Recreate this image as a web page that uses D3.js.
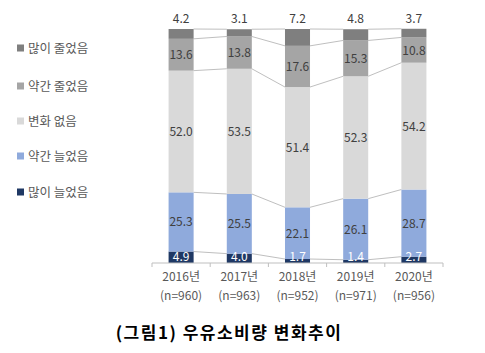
<!DOCTYPE html>
<html>
<head>
<meta charset="utf-8">
<script src="https://cdn.jsdelivr.net/npm/d3@7"></script>
<style>
  body { margin: 0; background: #fff; }
  svg { display: block; }
</style>
</head>
<body>
<svg id="chart"></svg>
<script>
// data
const years = ["2016년", "2017년", "2018년", "2019년", "2020년"];
const samples = ["(n=960)", "(n=963)", "(n=952)", "(n=971)", "(n=956)"];
const seriesNames = ["많이 늘었음", "약간 늘었음", "변화 없음", "약간 줄었음", "많이 줄었음"];
const manyUp = [4.9, 4.0, 1.7, 1.4, 2.7];
const littleUp = [25.3, 25.5, 22.1, 26.1, 28.7];
const noChange = [52.0, 53.5, 51.4, 52.3, 54.2];
const littleDown = [13.6, 13.8, 17.6, 15.3, 10.8];
const manyDown = [4.2, 3.1, 7.2, 4.8, 3.7];
const colors = ["#1f3864", "#8faadc", "#d9d9d9", "#a5a5a5", "#7f7f7f"];

const width = 485;
const height = 353;
const margin = {top: 29, bottom: 90, left: 152, right: 42};

const table = years.map((y, i) => ({
  year: y, n: samples[i],
  [seriesNames[0]]: manyUp[i],
  [seriesNames[1]]: littleUp[i],
  [seriesNames[2]]: noChange[i],
  [seriesNames[3]]: littleDown[i],
  [seriesNames[4]]: manyDown[i]
}));

const stack = d3.stack().keys(seriesNames).value((d, k) => d[k]);
const series = stack(table);

const svg = d3.select("#chart")
  .attr("width", width)
  .attr("height", height)
  .style("font-family", "'Noto Sans CJK KR', 'Noto Sans', sans-serif");

const xScale = d3.scaleBand()
  .domain(years)
  .range([margin.left, width - margin.right])
  .paddingInner(0.57)
  .paddingOuter(0.285);

const yScale = d3.scaleLinear()
  .domain([0, 100])
  .range([height - margin.bottom, margin.top]);

// connector lines between bars
series.forEach(s => {
  for (let i = 0; i < s.length - 1; i++) {
    svg.append("line")
      .attr("x1", xScale(years[i]) + xScale.bandwidth())
      .attr("x2", xScale(years[i + 1]))
      .attr("y1", yScale(s[i][1]))
      .attr("y2", yScale(s[i + 1][1]))
      .attr("stroke", "#bfbfbf")
      .attr("stroke-width", 1);
  }
});

// bars
const groups = svg.selectAll("g.series")
  .data(series)
  .enter()
  .append("g")
  .attr("fill", (d, i) => colors[i]);

groups.selectAll("rect")
  .data(d => d)
  .enter()
  .append("rect")
  .attr("x", d => xScale(d.data.year))
  .attr("width", xScale.bandwidth())
  .attr("y", d => yScale(d[1]))
  .attr("height", d => yScale(d[0]) - yScale(d[1]));

// value labels
series.forEach((s, si) => {
  svg.append("g").selectAll("text")
    .data(s)
    .enter()
    .append("text")
    .attr("x", d => xScale(d.data.year) + xScale.bandwidth() / 2)
    .attr("y", d => {
      if (si === 4) return yScale(d[1]) - 6;
      const mid = Math.min((yScale(d[0]) + yScale(d[1])) / 2, yScale(0) - 6.5);
      return mid + 4.5;
    })
    .attr("text-anchor", "middle")
    .attr("font-size", 12)
    .attr("fill", si === 0 ? "#ffffff" : "#404040")
    .text(d => (d[1] - d[0]).toFixed(1));
});

// x axis
const xAxis = g => g
  .attr("transform", `translate(0,${height - margin.bottom})`)
  .call(d3.axisBottom(xScale).tickSize(0).tickPadding(9))
  .call(g => g.select(".domain").attr("stroke", "#bfbfbf").attr("d",
      `M${margin.left},4V0H${width - margin.right}V4`))
  .call(g => g.selectAll(".tick text").attr("font-size", 12).attr("fill", "#595959")
      .attr("font-family", "'Noto Sans CJK KR', sans-serif"));

const axisG = svg.append("g").call(xAxis);

// tick separators between categories
axisG.selectAll(".sep")
  .data(years.slice(1))
  .enter()
  .append("line")
  .attr("x1", d => xScale(d) - xScale.step() * xScale.paddingInner() / 2)
  .attr("x2", d => xScale(d) - xScale.step() * xScale.paddingInner() / 2)
  .attr("y1", 0)
  .attr("y2", 4)
  .attr("stroke", "#bfbfbf");

axisG.selectAll(".tick")
  .append("text")
  .attr("y", 37)
  .attr("font-size", 12)
  .attr("fill", "#595959")
  .attr("text-anchor", "middle")
  .attr("font-family", "'Noto Sans CJK KR', sans-serif")
  .text((d, i) => samples[i]);

// legend (top series first)
const legendNames = seriesNames.slice().reverse();
const legendColors = colors.slice().reverse();
const legendY = [48, 86, 121, 156, 192];
const legend = svg.append("g").selectAll("g")
  .data(legendNames)
  .enter()
  .append("g")
  .attr("transform", (d, i) => `translate(17,${legendY[i]})`);

legend.append("rect")
  .attr("x", 0).attr("y", -3.5)
  .attr("width", 7).attr("height", 7)
  .attr("fill", (d, i) => legendColors[i]);

legend.append("text")
  .attr("x", 11)
  .attr("y", 4.5)
  .attr("font-size", 12.5)
  .attr("fill", "#595959")
  .text(d => d);

// caption
svg.append("text")
  .attr("x", 229)
  .attr("y", 339)
  .attr("text-anchor", "middle")
  .attr("font-size", 17)
  .attr("font-weight", "bold")
  .attr("letter-spacing", 1.5)
  .attr("fill", "#000")
  .text("(그림1) 우유소비량 변화추이");
</script>
</body>
</html>
